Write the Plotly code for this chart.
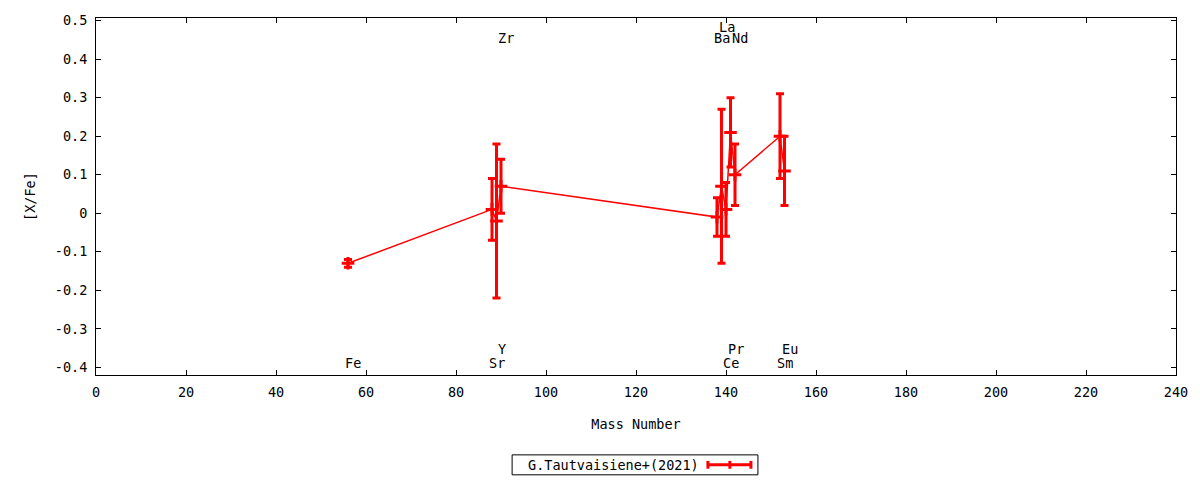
import plotly.graph_objects as go

# ---- data ----
elements = ["Fe", "Sr", "Y", "Zr", "Ba", "La", "Ce", "Pr", "Nd", "Sm", "Eu"]
mass = [56, 88, 89, 90, 138, 139, 140, 141, 142, 152, 153]
xfe = [-0.13, 0.01, -0.02, 0.07, -0.01, 0.07, 0.01, 0.21, 0.10, 0.20, 0.11]
xfe_err = [0.01, 0.08, 0.20, 0.07, 0.05, 0.20, 0.07, 0.09, 0.08, 0.11, 0.09]
series_name = "G.Tautvaisiene+(2021)"

x_ticks = [0, 20, 40, 60, 80, 100, 120, 140, 160, 180, 200, 220, 240]
y_ticks = [-0.4, -0.3, -0.2, -0.1, 0, 0.1, 0.2, 0.3, 0.4, 0.5]
y_tick_labels = ["-0.4", "-0.3", "-0.2", "-0.1", "0", "0.1", "0.2", "0.3", "0.4", "0.5"]

# label row for each element (layout only)
label_rows = {"Fe": -0.389, "Sr": -0.389, "Y": -0.353, "Zr": 0.455,
              "Ba": 0.455, "La": 0.484, "Ce": -0.389, "Pr": -0.353,
              "Nd": 0.455, "Sm": -0.389, "Eu": -0.353}

RED = "#ff0000"
FONT = "DejaVu Sans Mono"
FS = 13.5

fig = go.Figure()
fig.add_trace(go.Scatter(
    x=mass, y=xfe, mode="lines+markers", name=series_name,
    line=dict(color=RED, width=1.5),
    marker=dict(symbol="cross-thin", size=9, color=RED,
                line=dict(color=RED, width=3)),
    error_y=dict(type="data", array=xfe_err, visible=True,
                 color=RED, thickness=3, width=4),
    showlegend=False,
))

for el, m in zip(elements, mass):
    fig.add_annotation(x=m, y=label_rows[el], text=el, showarrow=False,
                       xanchor="center", yanchor="middle", xshift=5,
                       font=dict(family=FONT, size=FS, color="black"))

# legend box drawn manually (text left, sample right, as in the reference)
ly = -0.2516
fig.add_shape(type="rect", xref="paper", yref="paper",
              x0=0.3853, x1=0.6129, y0=-0.2796, y1=-0.2237,
              line=dict(color="black", width=1), fillcolor="white")
fig.add_annotation(xref="paper", yref="paper", x=0.5601, y=ly,
                   text=series_name, showarrow=False, xanchor="right",
                   yanchor="middle", font=dict(family=FONT, size=FS, color="black"))
fig.add_shape(type="line", xref="paper", yref="paper",
              x0=0.5666, x1=0.6064, y0=ly, y1=ly,
              line=dict(color=RED, width=3))
for xc in (0.5666, 0.6064, 0.5869):
    fig.add_shape(type="line", xref="paper", yref="paper",
                  x0=xc, x1=xc, y0=ly - 0.011, y1=ly + 0.011,
                  line=dict(color=RED, width=3))

axis_common = dict(showgrid=False, zeroline=False, showline=True,
                   linecolor="black", linewidth=1, mirror="ticks",
                   ticks="inside", ticklen=5, tickcolor="black",
                   tickfont=dict(family=FONT, size=FS, color="black"))

fig.update_xaxes(range=[0, 240], tickvals=x_ticks,
                 title=dict(text="Mass Number", font=dict(family=FONT, size=FS, color="black"),
                            standoff=20),
                 ticklabelstandoff=5, **axis_common)
fig.update_yaxes(range=[-0.42, 0.507], tickvals=y_ticks, ticktext=y_tick_labels,
                 title=dict(text="[X/Fe]", font=dict(family=FONT, size=FS, color="black"),
                            standoff=16),
                 ticklabelstandoff=5, **axis_common)

fig.update_layout(
    width=1200, height=480,
    margin=dict(l=96, r=22, t=17, b=105),
    plot_bgcolor="white", paper_bgcolor="white",
    font=dict(family=FONT, size=FS, color="black"),
    showlegend=False,
)

fig.write_html("out.html", config={"displayModeBar": False},
               post_script="document.body.style.margin='0';")
